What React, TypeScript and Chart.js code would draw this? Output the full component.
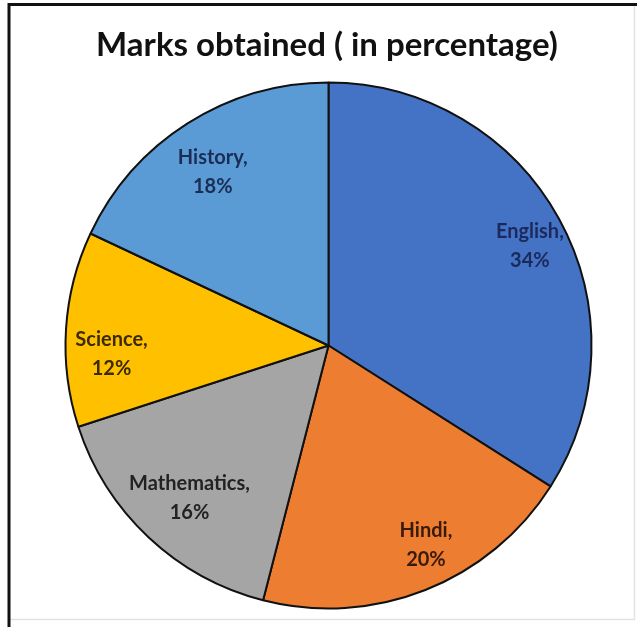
import React, { useEffect, useRef } from "react";
import { Chart, registerables } from "chart.js";

Chart.register(...registerables);

const TITLE = "Marks obtained ( in percentage)";
const SUBJECTS = ["English", "Hindi", "Mathematics", "Science", "History"];
const PERCENTS = [34, 20, 16, 12, 18];
const SLICE_COLORS = ["#4472C4", "#ED7D31", "#A5A5A5", "#FFC000", "#5B9BD5"];
const LABEL_COLORS = ["#1B2A5C", "#3A1A08", "#222222", "#3A2B00", "#1A2D55"];
// small nudges of the data labels (style only), in px
const LABEL_NUDGE_X = [17, 20, 5, -7, -3];
const LABEL_NUDGE_Y = [2, 4, -1, 22, 4];

const FONT = "Lato, 'Open Sans', 'DejaVu Sans', sans-serif";

const framePlugin = {
  id: "frameAndText",
  beforeDraw(chart: any) {
    const ctx = chart.ctx;
    ctx.save();
    ctx.fillStyle = "#ffffff";
    ctx.fillRect(0, 0, chart.width, chart.height);
    ctx.strokeStyle = "#e2e2e2";
    ctx.lineWidth = 1.5;
    ctx.beginPath();
    ctx.moveTo(634.5, 6);
    ctx.lineTo(634.5, 619.5);
    ctx.lineTo(10, 619.5);
    ctx.stroke();
    ctx.strokeStyle = "#111111";
    ctx.lineWidth = 3;
    ctx.beginPath();
    ctx.moveTo(chart.width, 4.5);
    ctx.lineTo(9, 4.5);
    ctx.lineTo(9, chart.height);
    ctx.stroke();
    ctx.fillStyle = "#111111";
    ctx.font = `bold 33px ${FONT}`;
    ctx.textAlign = "center";
    ctx.textBaseline = "alphabetic";
    ctx.fillText(TITLE, 327, 56);
    ctx.restore();
  },
  afterDatasetsDraw(chart: any) {
    const ctx = chart.ctx;
    const meta = chart.getDatasetMeta(0);
    ctx.save();
    ctx.font = `bold 20px ${FONT}`;
    ctx.textAlign = "center";
    ctx.textBaseline = "middle";
    meta.data.forEach((arc: any, i: number) => {
      const { x, y, startAngle, endAngle, outerRadius } = arc.getProps(
        ["x", "y", "startAngle", "endAngle", "outerRadius"],
        true
      );
      const mid = (startAngle + endAngle) / 2;
      const r = outerRadius * 0.8;
      const cx = x + Math.cos(mid) * r + LABEL_NUDGE_X[i];
      const cy = y + Math.sin(mid) * r + LABEL_NUDGE_Y[i];
      ctx.fillStyle = LABEL_COLORS[i];
      ctx.fillText(SUBJECTS[i] + ",", cx, cy - 14.5);
      ctx.fillText(PERCENTS[i] + "%", cx, cy + 14.5);
    });
    ctx.restore();
  },
};

export default function App() {
  const ref = useRef<HTMLCanvasElement | null>(null);
  useEffect(() => {
    if (!ref.current) return;
    const chart = new Chart(ref.current, {
      type: "pie",
      data: {
        labels: SUBJECTS,
        datasets: [
          {
            data: PERCENTS,
            backgroundColor: SLICE_COLORS,
            borderColor: "#111111",
            borderWidth: 2,
            hoverOffset: 0,
          },
        ],
      },
      options: {
        animation: false,
        responsive: false,
        maintainAspectRatio: false,
        radius: 263,
        layout: { padding: { left: 30, right: 10, top: 74, bottom: 10 } },
        plugins: {
          legend: { display: false },
          title: { display: false },
          tooltip: { enabled: false },
        },
        events: [],
      } as any,
      plugins: [framePlugin],
    });
    return () => chart.destroy();
  }, []);
  return (
    <div style={{ position: "absolute", left: 0, top: 0, width: 637, height: 627 }}>
      <canvas ref={ref} width={637} height={627} style={{ width: 637, height: 627, display: "block" }} />
    </div>
  );
}
